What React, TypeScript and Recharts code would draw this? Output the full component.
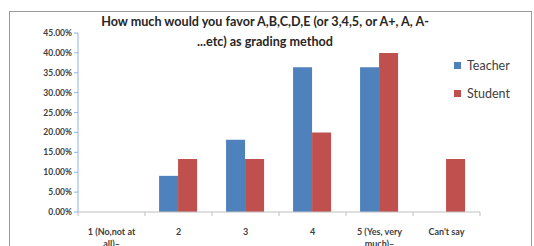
import React from 'react';
import { BarChart, Bar, XAxis, YAxis } from 'recharts';

// categories and values (fractions)
const categories = ['1 (No,not at all)–', '2', '3', '4', '5 (Yes, very much)–', "Can't say"];
const teacher = [0, 0.0909, 0.1818, 0.3636, 0.3636, 0];
const student = [0, 0.1333, 0.1333, 0.2, 0.4, 0.1333];
const yTicks = [0, 0.05, 0.1, 0.15, 0.2, 0.25, 0.3, 0.35, 0.4, 0.45];
const seriesNames = ['Teacher', 'Student'];

const titleLines = ['How much would you favor A,B,C,D,E  (or 3,4,5, or A+, A, A-', '...etc) as grading method'];

const BLUE = '#4F81BD';
const RED = '#C0504D';
const FONT = 'Lato, "Liberation Sans", sans-serif';

const data = categories.map((c, i) => ({ name: c, Teacher: teacher[i], Student: student[i] }));

// simple word wrap for the long category names
const wrap = (s: string, max: number) => {
  const words = s.split(' ');
  const lines: string[] = [];
  let cur = '';
  words.forEach(w => {
    const next = cur ? cur + ' ' + w : w;
    if (next.length > max && cur) {
      lines.push(cur);
      cur = w;
    } else {
      cur = next;
    }
  });
  if (cur) lines.push(cur);
  return lines;
};

const CategoryTick = (props: any) => {
  const { x, y, payload, index } = props;
  const half = payload.offset || 0;
  const lines = wrap(String(payload.value), 12);
  return (
    <g>
      <line x1={x - half} x2={x - half} y1={y - 8} y2={y - 4} stroke="#BFBFBF" />
      {index === categories.length - 1 && (
        <line x1={x + half} x2={x + half} y1={y - 8} y2={y - 4} stroke="#BFBFBF" />
      )}
      <text textAnchor="middle" fontSize={9} fontWeight={700} fill="#404040" fontFamily={FONT}>
        {lines.map((l, i) => (
          <tspan key={i} x={x} y={y + 15 + i * 12}>{l}</tspan>
        ))}
      </text>
    </g>
  );
};

const colors = [BLUE, RED];

const App: React.FC = () => {
  return (
    <div style={{ position: 'absolute', left: 0, top: 0, width: 534, height: 246, background: '#fff', overflow: 'hidden' }}>
      <div style={{ position: 'absolute', left: 9, top: 11, width: 521, height: 260, border: '1px solid #9A9A9A' }} />
      <div
        style={{
          position: 'absolute', left: 40, top: 12, width: 450, textAlign: 'center',
          fontFamily: FONT, fontWeight: 700, fontSize: 12.6, lineHeight: '20px', color: '#262626'
        }}
      >
        {titleLines.map(l => <div key={l}>{l}</div>)}
      </div>
      <div style={{ position: 'absolute', left: 454, top: 51, fontFamily: FONT, fontSize: 12.5, color: '#404040' }}>
        {seriesNames.map((name, i) => (
          <div key={name} style={{ display: 'flex', alignItems: 'center', height: 28 }}>
            <span style={{ width: 7, height: 7, background: colors[i], marginRight: 6, display: 'inline-block' }} />
            <span>{name}</span>
          </div>
        ))}
      </div>
      <div style={{ position: 'absolute', left: 0, top: 0 }}>
        <BarChart
          width={534}
          height={246}
          data={data}
          margin={{ top: 33, right: 54, left: 0, bottom: 0 }}
          barGap={0}
          barCategoryGap="21%"
        >
          <XAxis
            dataKey="name"
            interval={0}
            height={34}
            tickLine={false}
            axisLine={{ stroke: '#BFBFBF' }}
            tick={<CategoryTick />}
          />
          <YAxis
            domain={[0, 0.45]}
            ticks={yTicks}
            interval={0}
            width={78}
            tickFormatter={(v: number) => (v * 100).toFixed(2) + '%'}
            tick={{ fontSize: 8.5, fill: '#404040', fontFamily: FONT, fontWeight: 700 }}
            tickSize={4}
            tickLine={{ stroke: '#8EB4E3' }}
            axisLine={{ stroke: '#8EB4E3' }}
          />
          {seriesNames.map((name, i) => (
            <Bar key={name} dataKey={name} fill={colors[i]} isAnimationActive={false} />
          ))}
        </BarChart>
      </div>
    </div>
  );
};

export default App;
